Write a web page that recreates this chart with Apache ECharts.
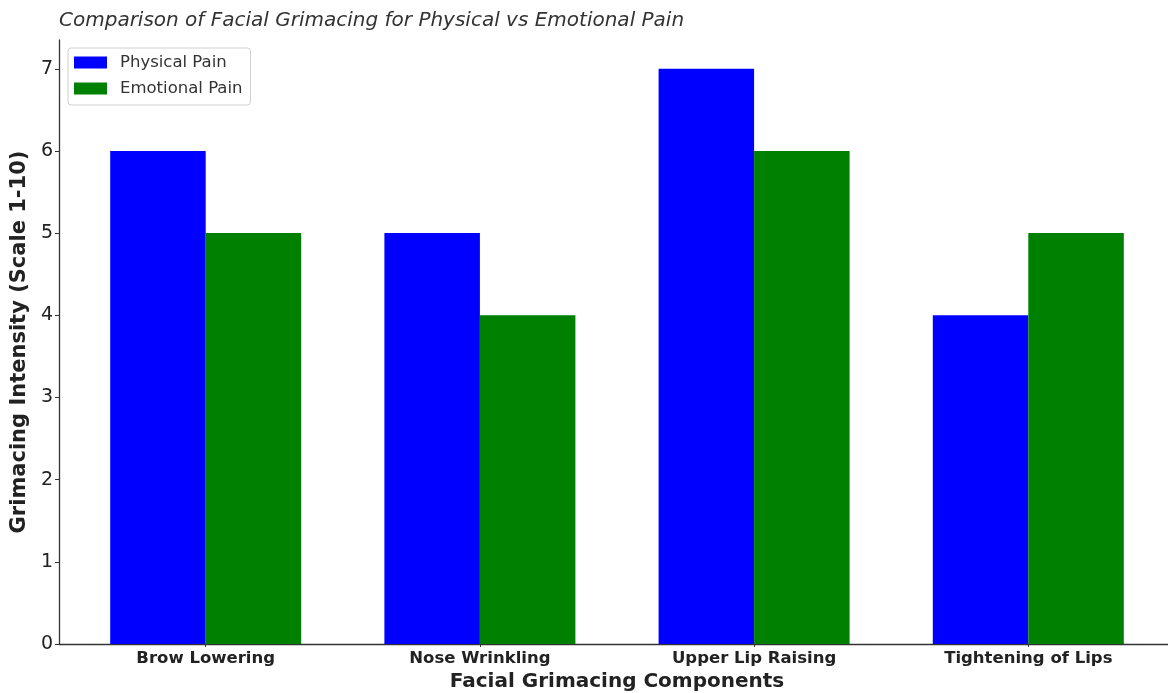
<!DOCTYPE html>
<html><head><meta charset="utf-8">
<script src="https://cdn.jsdelivr.net/npm/echarts@6/dist/echarts.min.js"></script>
<style>html,body{margin:0;padding:0;background:#fff}#c{width:1168px;height:693px}</style>
</head><body><div id="c"></div>
<script>
const categories = ['Brow Lowering', 'Nose Wrinkling', 'Upper Lip Raising', 'Tightening of Lips'];
const physicalPain = [6, 5, 7, 4];
const emotionalPain = [5, 4, 6, 5];
const seriesNames = ['Physical Pain', 'Emotional Pain'];
const yTicks = [0, 1, 2, 3, 4, 5, 6, 7];

const catIdx = categories.map((_, i) => i);
const font = 'DejaVu Sans';
const chart = echarts.init(document.getElementById('c'), null, {renderer: 'canvas'});
chart.setOption({
  animation: false,
  backgroundColor: '#ffffff',
  title: {
    text: 'Comparison of Facial Grimacing for Physical vs Emotional Pain',
    left: 59, top: 11, padding: 0,
    textStyle: {fontFamily: font, fontStyle: 'italic', fontWeight: 'normal', fontSize: 20, color: '#333333'}
  },
  legend: {
    orient: 'vertical', left: 68, top: 48,
    padding: [6, 8, 8, 6],
    icon: 'rect',
    itemWidth: 33, itemHeight: 12, itemGap: 9,
    borderColor: '#d0d0d0', borderWidth: 1, borderRadius: 3,
    backgroundColor: '#ffffff',
    textStyle: {fontFamily: font, fontSize: 16.5, color: '#333333', padding: [0, 0, 0, 8]},
    data: seriesNames
  },
  grid: {left: 59, top: 40, width: 1116, height: 604, containLabel: false, outerBoundsMode: 'none'},
  xAxis: {
    type: 'value', min: -0.535, max: 3.535,
    name: 'Facial Grimacing Components', nameLocation: 'middle', nameGap: 26,
    nameTextStyle: {fontFamily: font, fontWeight: 'bold', fontSize: 20, color: '#222222'},
    axisLine: {show: true, onZero: false, lineStyle: {color: '#333333', width: 1.3}},
    axisTick: {show: true, length: 3, customValues: catIdx, lineStyle: {color: '#333333'}},
    axisLabel: {
      customValues: catIdx, margin: 6,
      fontFamily: font, fontWeight: 'bold', fontSize: 16.5, color: '#222222',
      formatter: v => categories[Math.round(v)]
    },
    splitLine: {show: false}
  },
  yAxis: {
    type: 'value', min: 0, max: 7.35, interval: 1,
    name: 'Grimacing Intensity (Scale 1-10)', nameLocation: 'middle', nameGap: 26,
    nameTextStyle: {fontFamily: font, fontWeight: 'bold', fontSize: 21, color: '#222222'},
    axisLine: {show: true, onZero: false, lineStyle: {color: '#333333', width: 1.3}},
    axisTick: {show: true, length: 4, lineStyle: {color: '#333333'}},
    axisLabel: {
      showMaxLabel: false, margin: 6,
      fontFamily: font, fontSize: 19, color: '#222222',
      formatter: v => (yTicks.indexOf(v) >= 0 ? String(v) : '')
    },
    splitLine: {show: false}
  },
  series: [
    {name: seriesNames[0], type: 'bar', barWidth: 95.5, barGap: '0%',
     itemStyle: {color: '#0000ff'}, data: physicalPain.map((v, i) => [catIdx[i], v])},
    {name: seriesNames[1], type: 'bar', barWidth: 95.5, barGap: '0%',
     itemStyle: {color: '#008000'}, data: emotionalPain.map((v, i) => [catIdx[i], v])}
  ]
});
</script></body></html>
